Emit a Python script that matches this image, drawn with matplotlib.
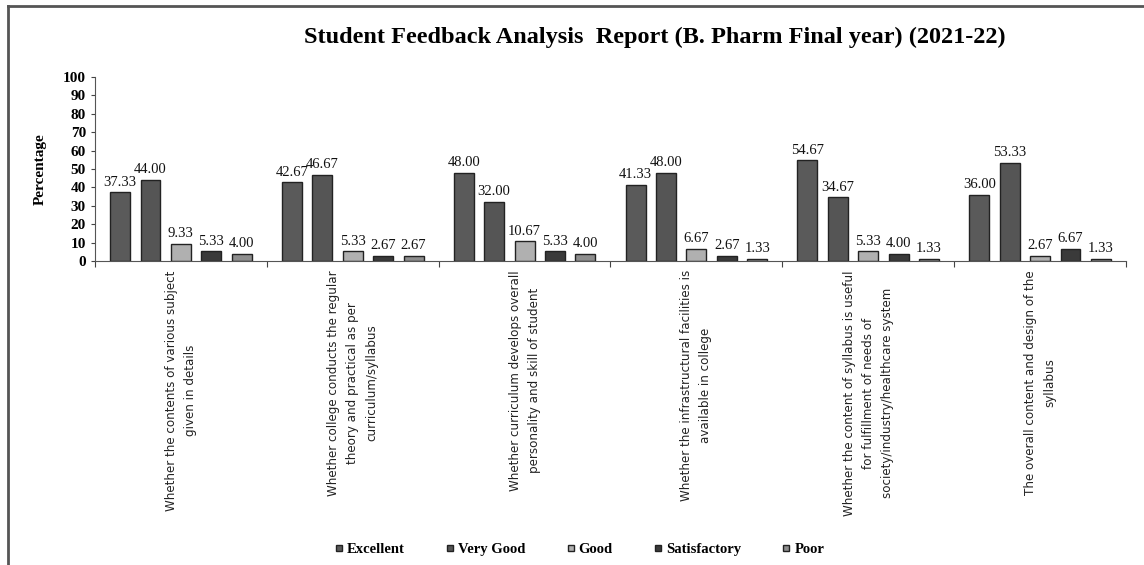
import numpy as np
import matplotlib.pyplot as plt
from matplotlib.lines import Line2D

categories = [
    "Whether the contents of various subject\ngiven in details",
    "Whether college conducts the regular\ntheory and practical as per\ncurriculum/syllabus",
    "Whether curriculum develops overall\npersonality and skill of student",
    "Whether the infrastructural facilities is\navailable in college",
    "Whether the content of syllabus is useful\nfor fulfillment of needs of\nsociety/industry/healthcare system",
    "The overall content and design of the\nsyllabus",
]
series = ["Excellent", "Very Good", "Good", "Satisfactory", "Poor"]
excellent = [37.33, 42.67, 48.00, 41.33, 54.67, 36.00]
very_good = [44.00, 46.67, 32.00, 48.00, 34.67, 53.33]
good = [9.33, 5.33, 10.67, 6.67, 5.33, 2.67]
satisfactory = [5.33, 2.67, 5.33, 2.67, 4.00, 6.67]
poor = [4.00, 2.67, 4.00, 1.33, 1.33, 1.33]
values = [excellent, very_good, good, satisfactory, poor]
colors = ["#5a5a5a", "#555555", "#b0b0b0", "#3a3a3a", "#8e8e8e"]

serif = "Liberation Serif"

fig = plt.figure(figsize=(11.44, 5.65), dpi=100)
ax = fig.add_axes([95 / 1144, 1 - 261 / 565, 1031 / 1144, 184 / 565])

x = np.arange(len(categories))
step = 0.177
width = 0.116
for k, (name, vals, col) in enumerate(zip(series, values, colors)):
    pos = x + (k - 2) * step
    ax.bar(pos, vals, width, color=col, edgecolor="#222222", linewidth=1.0, label=name)
    for p, v in zip(pos, vals):
        ax.text(p, v + 2, f"{v:.2f}", ha="center", va="bottom",
                fontsize=10.5, family=serif, color="#111111")

ax.set_xlim(-0.5, len(categories) - 0.5)
ax.set_ylim(0, 100)
ax.set_yticks(range(0, 101, 10))
ax.tick_params(axis="y", labelsize=11, length=3, color="#444444")
for lab in ax.get_yticklabels():
    lab.set_family(serif)
    lab.set_fontweight("bold")
ax.set_xticks(np.arange(-0.5, len(categories)), minor=False)
ax.set_xticklabels([])
ax.tick_params(axis="x", length=4, color="#444444")
for xc, lab in zip(x, categories):
    ax.text(xc, -5, lab, rotation=90, ha="center", va="top", fontsize=8.6,
            family="DejaVu Sans", color="#222222", linespacing=1.6,
            multialignment="center", transform=ax.transData, clip_on=False)

for s in ["top", "right"]:
    ax.spines[s].set_visible(False)
for s in ["left", "bottom"]:
    ax.spines[s].set_color("#555555")

ax.set_ylabel("Percentage", family=serif, fontweight="bold", fontsize=11, labelpad=12)

fig.text(655 / 1144, 1 - 37 / 565,
         "Student Feedback Analysis  Report (B. Pharm Final year) (2021-22)",
         ha="center", va="center", family=serif, fontweight="bold", fontsize=17.5)

handles = [Line2D([], [], marker="s", linestyle="none", markersize=5,
                  markerfacecolor=c, markeredgecolor="#222222") for c in colors]
fig.legend(handles, series, loc="center", bbox_to_anchor=(578 / 1144, 1 - 549 / 565),
           ncol=5, frameon=False, columnspacing=2.6, handletextpad=0.05,
           handlelength=1.0, prop={"family": serif, "weight": "bold", "size": 10.5})

fig.add_artist(Line2D([8 / 1144, 8 / 1144], [0, 1 - 6 / 565], color="#555555", lw=2))
fig.add_artist(Line2D([8 / 1144, 1], [1 - 6 / 565, 1 - 6 / 565], color="#555555", lw=2))

fig.savefig("out.png", dpi=100)
